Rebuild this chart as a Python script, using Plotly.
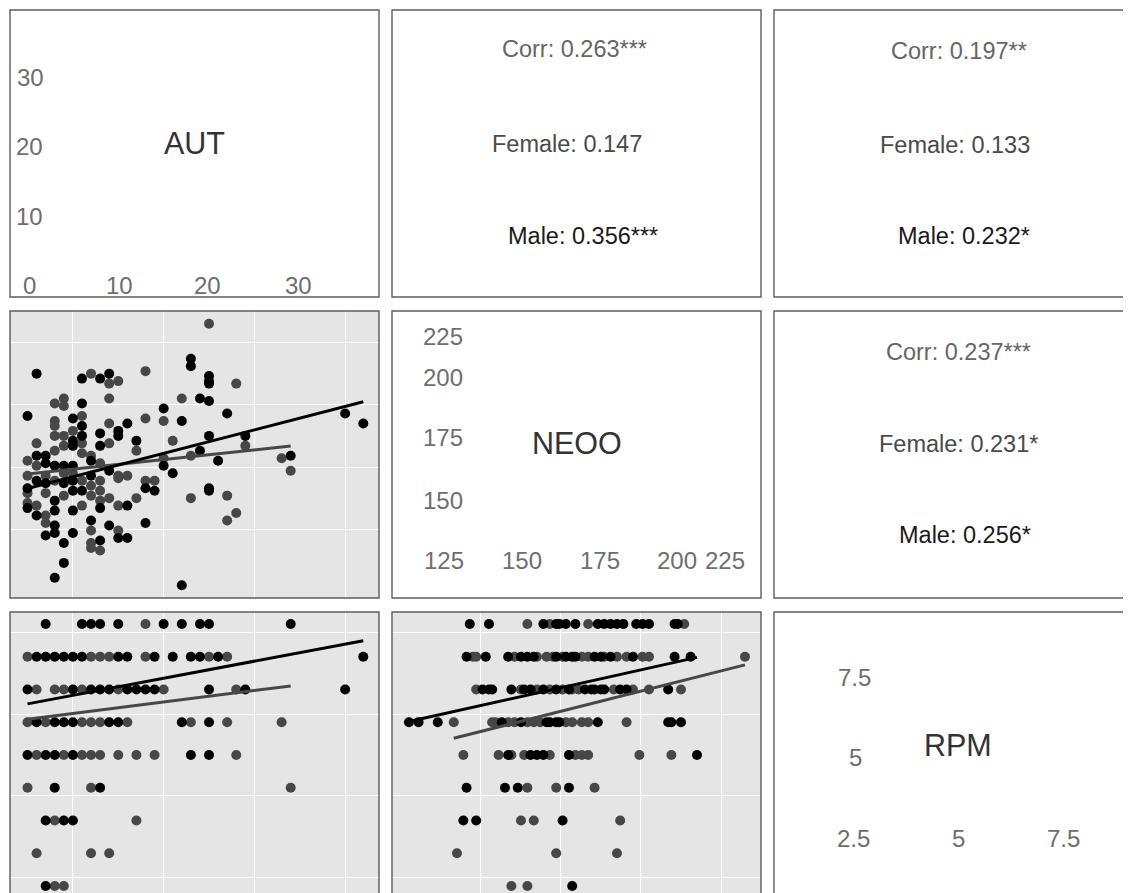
import plotly.graph_objects as go

# page body has an 8px margin: the figure is sized/positioned to compensate
OFF = 8
W, H = 1131 - OFF, 893 - OFF

# ---------------- data ----------------
# AUT (x) vs NEOO (y)
aut_neoo_female = [(0,165),(0,159),(0,152),(0,148),(1,172),(1,163),(1,147),
    (2,159),(2,152),(2,143),(2,140),(3,188),(3,181),(3,179),(3,175),(3,169),(3,157),
    (4,190),(4,187),(4,175),(4,171),(4,160),(4,151),(5,177),(5,160),
    (6,183),(6,172),(6,168),(6,157),(6,147),(7,200),(7,167),(7,155),(7,151),(7,137),(7,132),(7,130),
    (8,164),(8,157),(8,153),(8,149),(8,129),(9,196),(9,190),(9,180),(9,172),(9,150),
    (10,197),(10,159),(10,158),(10,147),(10,137),(11,159),(12,169),(12,150),
    (13,201),(13,182),(13,157),(14,157),(15,181),(15,166),(16,173),(17,190),
    (18,167),(18,150),(20,220),(22,151),(22,141),(23,196),(23,144),(24,171),(28,166),(29,161)]
aut_neoo_male = [(0,183),(0,154),(0,146),(1,200),(1,167),(1,157),(1,143),
    (2,167),(2,164),(2,156),(2,135),(3,163),(3,149),(3,145),(3,139),(3,136),(3,118),
    (4,163),(4,156),(4,132),(4,124),(5,182),(5,173),(5,171),(5,163),(5,157),(5,153),(5,145),(5,136),
    (6,198),(6,188),(6,179),(6,175),(6,153),(7,165),(7,159),(7,141),
    (8,198),(8,176),(8,171),(8,146),(8,133),(9,200),(9,161),(9,139),
    (10,177),(10,175),(10,134),(11,180),(11,147),(11,134),(12,173),(13,154),(13,140),
    (14,153),(15,186),(15,163),(16,160),(17,181),(17,115),(18,206),(18,203),
    (19,190),(19,169),(20,199),(20,197),(20,196),(20,189),(20,175),(20,154),(20,153),
    (21,165),(22,184),(24,175),(29,167),(35,184),(37,180)]

# AUT (x) vs RPM (y)
aut_rpm_female = [(13,9),(0,8),(7,8),(8,8),(9,8),(13,8),(20,8),(22,8),
    (1,7),(3,7),(4,7),(6,7),(10,7),(15,7),(23,7),
    (0,6),(2,6),(6,6),(7,6),(8,6),(11,6),(18,6),(22,6),(28,6),
    (1,5),(4,5),(6,5),(7,5),(8,5),(10,5),(12,5),(14,5),(23,5),
    (0,4),(7,4),(29,4),(3,3),(12,3),(1,2),(7,2),(9,2),(3,1),(4,1)]
aut_rpm_male = [(2,9),(6,9),(7,9),(8,9),(10,9),(15,9),(17,9),(19,9),(20,9),(29,9),
    (1,8),(2,8),(3,8),(4,8),(5,8),(6,8),(10,8),(11,8),(14,8),(16,8),(18,8),(19,8),(21,8),(37,8),
    (0,7),(5,7),(7,7),(8,7),(9,7),(11,7),(12,7),(13,7),(14,7),(20,7),(24,7),(35,7),
    (1,6),(3,6),(4,6),(5,6),(9,6),(10,6),(17,6),(20,6),
    (0,5),(2,5),(3,5),(5,5),(18,5),(20,5),
    (3,4),(8,4),(2,3),(4,3),(5,3),(2,1)]

# NEOO (x) vs RPM (y)
neoo_rpm_female = [(152,9),(159,9),(171,9),(201,9),
    (135,8),(136,8),(148,8),(155,8),(158,8),(160,8),(163,8),(169,8),(171,8),(176,8),(180,8),(183,8),(188,8),(190,8),(220,8),
    (136,7),(150,7),(155,7),(159,7),(163,7),(166,7),(168,7),(179,7),(185,7),(190,7),(200,7),
    (129,6),(141,6),(142,6),(146,6),(148,6),(152,6),(154,6),(156,6),(164,6),(166,6),(169,6),(171,6),(183,6),
    (132,5),(143,5),(147,5),(151,5),(159,5),(167,5),(169,5),(171,5),(187,5),(197,5),
    (152,4),(161,4),(173,4),(150,3),(154,3),(181,3),(130,2),(161,2),(180,2),(147,1),(152,1)]
neoo_rpm_male = [(134,9),(140,9),(157,9),(161,9),(162,9),(164,9),(167,9),(174,9),(176,9),(178,9),(180,9),(182,9),(186,9),(188,9),(190,9),(198,9),(199,9),
    (133,8),(139,8),(146,8),(150,8),(152,8),(154,8),(161,8),(164,8),(166,8),(167,8),(173,8),(175,8),(178,8),(185,8),(198,8),(203,8),
    (138,7),(140,7),(141,7),(147,7),(151,7),(153,7),(157,7),(161,7),(165,7),(170,7),(172,7),(173,7),(175,7),(176,7),(181,7),(183,7),(196,7),
    (115,6),(118,6),(124,6),(144,6),(150,6),(158,6),(159,6),(161,6),(162,6),(174,6),(196,6),(197,6),(200,6),
    (146,5),(153,5),(155,5),(157,5),(165,5),(205,5),
    (133,4),(145,4),(149,4),(165,4),(132,3),(136,3),(163,3),(166,1)]

# fitted (lm) line end points per group
fit_aut_neoo = {"Female": [(0, 159.7), (29, 170.9)], "Male": [(0, 153.9), (37, 188.7)]}
fit_aut_rpm = {"Female": [(0, 6.09), (29, 7.11)], "Male": [(0, 6.56), (37, 8.49)]}
fit_neoo_rpm = {"Female": [(129, 5.51), (220, 7.75)], "Male": [(115, 6.02), (205, 7.98)]}

variables = ["AUT", "NEOO", "RPM"]
corr_texts = {
    (0, 1): ["Corr: 0.263***", "Female: 0.147", "Male: 0.356***"],
    (0, 2): ["Corr: 0.197**", "Female: 0.133", "Male: 0.232*"],
    (1, 2): ["Corr: 0.237***", "Female: 0.231*", "Male: 0.256*"],
}
diag_y_ticks = {"AUT": ["30", "20", "10"], "NEOO": ["225", "200", "175", "150"], "RPM": ["7.5", "5"]}
diag_x_ticks = {"AUT": ["0", "10", "20", "30"], "NEOO": ["125", "150", "175", "200", "225"], "RPM": ["2.5", "5", "7.5"]}

# ---------------- layout geometry (screen pixels) ----------------
COLS = [(10, 379), (392, 761), (774, 1143)]
ROWS = [(10, 297), (311, 598), (612, 899)]
GRID_X = {0: [5, 15, 25, 35], 1: [137.5, 162.5, 187.5, 212.5]}
GRID_Y = {1: [137.5, 162.5, 187.5, 212.5], 2: [1.25, 3.75, 6.25, 8.75]}
RANGE_X = {0: [-1.93, 38.73], 1: [109.7, 225.0]}
RANGE_Y = {1: [109.9, 225.15], 2: [0.786, 9.366]}

FEMALE = "#474747"
MALE = "#000000"
FONT = "Liberation Sans, Arial, Helvetica, sans-serif"


def px(x):
    return (x - OFF) / W


def py(y):
    return 1 - (y - OFF) / H


fig = go.Figure()
layout = {}
shapes = []
annotations = []

for r in range(3):
    for c in range(3):
        k = r * 3 + c + 1
        xn = "xaxis" if k == 1 else f"xaxis{k}"
        yn = "yaxis" if k == 1 else f"yaxis{k}"
        xa = "x" if k == 1 else f"x{k}"
        ya = "y" if k == 1 else f"y{k}"
        xd = [max(0, px(COLS[c][0])), min(1, px(COLS[c][1]))]
        yd = [max(0, py(ROWS[r][1])), min(1, py(ROWS[r][0]))]
        lower = r > c
        layout[xn] = dict(domain=xd, anchor=ya, showticklabels=False, ticks="",
                          zeroline=False, showline=False,
                          showgrid=lower, gridcolor="white", gridwidth=1.3,
                          range=RANGE_X.get(c, [0, 1]) if lower else [0, 1],
                          tickvals=GRID_X.get(c) if lower else [], fixedrange=True)
        layout[yn] = dict(domain=yd, anchor=xa, showticklabels=False, ticks="",
                          zeroline=False, showline=False,
                          showgrid=lower, gridcolor="white", gridwidth=1.3,
                          range=RANGE_Y.get(r, [0, 1]) if lower else [0, 1],
                          tickvals=GRID_Y.get(r) if lower else [], fixedrange=True)
        if lower:
            shapes.append(dict(type="rect", xref=f"{xa} domain", yref=f"{ya} domain",
                               x0=0, x1=1, y0=0, y1=1, fillcolor="#E5E5E5",
                               line=dict(width=0), layer="below"))
        # panel border
        shapes.append(dict(type="rect", xref="paper", yref="paper",
                           x0=px(COLS[c][0]), x1=px(COLS[c][1]),
                           y0=py(ROWS[r][1]), y1=py(ROWS[r][0]),
                           line=dict(color="#5c5c5c", width=1.4),
                           fillcolor="rgba(0,0,0,0)", layer="above"))


def add_group(points, color, xa, ya):
    fig.add_trace(go.Scatter(x=[p[0] for p in points], y=[p[1] for p in points],
                             mode="markers", xaxis=xa, yaxis=ya, showlegend=False,
                             marker=dict(size=10, color=color, line=dict(width=0))))


def add_fit(ends, color, xa, ya):
    fig.add_trace(go.Scatter(x=[p[0] for p in ends], y=[p[1] for p in ends],
                             mode="lines", xaxis=xa, yaxis=ya, showlegend=False,
                             line=dict(color=color, width=3)))


# row 2, col 1 : AUT vs NEOO
add_group(aut_neoo_female, FEMALE, "x4", "y4")
add_group(aut_neoo_male, MALE, "x4", "y4")
add_fit(fit_aut_neoo["Female"], FEMALE, "x4", "y4")
add_fit(fit_aut_neoo["Male"], MALE, "x4", "y4")
# row 3, col 1 : AUT vs RPM
add_group(aut_rpm_female, FEMALE, "x7", "y7")
add_group(aut_rpm_male, MALE, "x7", "y7")
add_fit(fit_aut_rpm["Female"], FEMALE, "x7", "y7")
add_fit(fit_aut_rpm["Male"], MALE, "x7", "y7")
# row 3, col 2 : NEOO vs RPM
add_group(neoo_rpm_female, FEMALE, "x8", "y8")
add_group(neoo_rpm_male, MALE, "x8", "y8")
add_fit(fit_neoo_rpm["Female"], FEMALE, "x8", "y8")
add_fit(fit_neoo_rpm["Male"], MALE, "x8", "y8")


def text(s, x, y, size, color):
    annotations.append(dict(text=s, x=px(x), y=py(y), xref="paper", yref="paper",
                            showarrow=False, xanchor="center", yanchor="middle",
                            font=dict(family=FONT, size=size, color=color)))


NAME_C = "#333333"
TICK_C = "#6e6e6e"
NAME_S = 30.5
TICK_S = 24

# diagonal panels
diag_pos = {
    "AUT": dict(name=(194, 143), y=[(30, 77), (29, 146), (29, 217)], xrow=285,
                x=[29, 119, 207, 298]),
    "NEOO": dict(name=(577, 443), y=[(443, 336), (443, 377), (443, 438), (443, 500)], xrow=560,
                 x=[444, 522, 600, 677, 725]),
    "RPM": dict(name=(958, 745), y=[(854, 677), (855, 757)], xrow=838,
                x=[853, 958, 1063]),
}
for v in variables:
    p = diag_pos[v]
    text(v, p["name"][0], p["name"][1], NAME_S, NAME_C)
    for lab, (x, y) in zip(diag_y_ticks[v], p["y"]):
        text(lab, x, y, TICK_S, TICK_C)
    for lab, x in zip(diag_x_ticks[v], p["x"]):
        text(lab, x, p["xrow"], TICK_S, TICK_C)

# upper panels: correlations
corr_pos = {
    (0, 1): [(574, 49), (567, 144), (583, 236)],
    (0, 2): [(959, 51), (955, 145), (964, 236)],
    (1, 2): [(958, 352), (958, 444), (965, 535)],
}
corr_colors = ["#666666", "#4a4a4a", "#1a1a1a"]
for key, labs in corr_texts.items():
    for lab, (x, y), col in zip(labs, corr_pos[key], corr_colors):
        text(lab, x, y, 23.5, col)

fig.update_layout(width=W, height=H, margin=dict(l=0, r=0, t=0, b=0),
                  paper_bgcolor="white", plot_bgcolor="white",
                  shapes=shapes, annotations=annotations, showlegend=False,
                  font=dict(family=FONT), **layout)

fig.write_html("out.html")
